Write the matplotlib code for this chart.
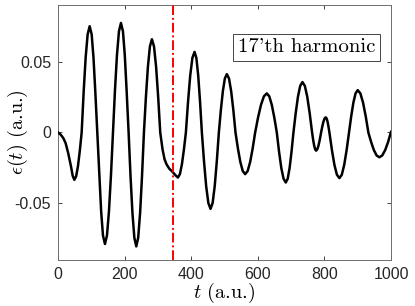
import matplotlib
matplotlib.use("Agg")
import matplotlib.pyplot as plt

# field samples (t in a.u., eps in a.u.)
t = [0, 8, 16, 23, 31, 39, 44, 49, 54.5, 60, 65.5, 71,
     77, 83, 89, 95, 101, 106.5, 112, 118,
     124, 129.5, 135, 141, 147, 153, 159, 165,
     171, 177, 183, 189, 195, 200.5, 206, 212,
     217.75, 223.5, 229.25, 235, 240.75, 246.5, 252.25, 258,
     264, 270, 276, 282, 288.25, 294.5, 300.75, 307,
     314, 320, 326, 334, 344, 352, 360, 366, 372, 378, 384,
     390.5, 397, 403.5, 410, 415.5, 421, 426.5, 432,
     438.5, 445, 451.5, 458, 464.25, 470.5, 476.75, 483,
     489, 495, 501, 507, 513.5, 520, 526.5, 533,
     540.25, 547.5, 554.75, 562, 569.5, 577, 584.5, 592,
     600.75, 609.5, 618.25, 627, 634.5, 642, 649.5, 657,
     663.75, 670.5, 677.25, 684, 689.75, 695.5, 701.25, 707,
     713.75, 720.5, 727.25, 734, 741.25, 748.5, 755.75, 763,
     766, 769, 772, 775, 778.75, 782.5, 786.25, 790,
     793.5, 797, 800.5, 804, 806.75, 809.5, 812.25, 815,
     822.5, 830, 837.5, 845, 852.25, 859.5, 866.75, 874,
     880.5, 887, 893.5, 900, 908, 916, 924, 932,
     940.25, 948.5, 956.75, 965, 973.75, 982.5, 991.25, 1000]
eps = [0, -0.0015, -0.004, -0.0076, -0.015, -0.024, -0.0305, -0.0334, -0.0309, -0.0236, -0.0128, 0,
       0.0287, 0.053, 0.0693, 0.075, 0.0693, 0.053, 0.0287, 0,
       -0.0301, -0.0556, -0.0727, -0.0787, -0.0727, -0.0556, -0.0301, 0,
       0.0296, 0.0547, 0.0714, 0.0773, 0.0714, 0.0547, 0.0296, 0,
       -0.0308, -0.0568, -0.0743, -0.0804, -0.0743, -0.0568, -0.0308, 0,
       0.0252, 0.0465, 0.0608, 0.0658, 0.0608, 0.0465, 0.0252, 0,
       -0.012, -0.019, -0.0225, -0.0255, -0.0278, -0.030, -0.0318, -0.0294, -0.0225, -0.0122, 0,
       0.0218, 0.0402, 0.0526, 0.0569, 0.0526, 0.0402, 0.0218, 0,
       -0.0206, -0.0381, -0.0498, -0.0539, -0.0498, -0.0381, -0.0206, 0,
       0.0158, 0.0291, 0.0381, 0.0412, 0.0381, 0.0291, 0.0158, 0,
       -0.0113, -0.0208, -0.0272, -0.0294, -0.0272, -0.0208, -0.0113, 0,
       0.0106, 0.0195, 0.0255, 0.0276, 0.0255, 0.0195, 0.0106, 0,
       -0.0135, -0.025, -0.0326, -0.0353, -0.0326, -0.025, -0.0135, 0,
       0.0136, 0.0252, 0.0329, 0.0356, 0.0329, 0.0252, 0.0136, 0,
       -0.0049, -0.009, -0.0118, -0.0128, -0.0118, -0.009, -0.0049, 0,
       0.0041, 0.0076, 0.0099, 0.0107, 0.0099, 0.0076, 0.0041, 0,
       -0.0123, -0.0228, -0.0298, -0.0322, -0.0298, -0.0228, -0.0123, 0,
       0.0115, 0.0211, 0.0276, 0.0299, 0.0276, 0.0211, 0.0115, 0,
       -0.0067, -0.0124, -0.0162, -0.0175, -0.0162, -0.0124, -0.0067, 0.0005]

t_mark = 345
xticks = [0, 200, 400, 600, 800, 1000]
yticks = [-0.05, 0, 0.05]
ytick_labels = ["-0.05", "0", "0.05"]

plt.rcParams["mathtext.fontset"] = "cm"
tick_col = "#262626"

fig = plt.figure(figsize=(4.15, 3.06), dpi=100)
ax = fig.add_axes([0.1398, 0.1503, 0.8024, 0.8334])

ax.plot(t, eps, color="black", linewidth=1.8, zorder=3)
ax.axvline(t_mark, color="red", linestyle=(0, (5, 1.5, 1, 1.5)),
           linewidth=1.4, zorder=4)

ax.set_xlim(0, 1000)
ax.set_ylim(-0.09, 0.09)
ax.set_xticks(xticks)
ax.set_xticklabels([str(v) for v in xticks])
ax.set_yticks(yticks)
ax.set_yticklabels(ytick_labels)
ax.tick_params(direction="in", length=3, width=0.6, colors=tick_col,
               top=True, right=True, labelsize=11.5, pad=5)
for lab in ax.get_xticklabels() + ax.get_yticklabels():
    lab.set_family("Liberation Sans")
for sp in ax.spines.values():
    sp.set_color("#6e6e6e")
    sp.set_linewidth(0.7)

ax.set_xlabel(r"$t$ (a.u.)", fontsize=14.5, family="cmr10")
ax.set_ylabel(r"$\epsilon(t)$ (a.u.)", fontsize=14.5, family="cmr10")
ax.xaxis.set_label_coords(0.5, -0.08)
ax.yaxis.set_label_coords(-0.084, 0.5)

ax.text(0.952, 0.835, "17'th harmonic", transform=ax.transAxes,
        ha="right", va="center", fontsize=15, family="cmr10",
        bbox=dict(boxstyle="square,pad=0.22", facecolor="white",
                  edgecolor="#444444", linewidth=0.7), zorder=5)

fig.savefig("out.png", dpi=100, facecolor="white")
